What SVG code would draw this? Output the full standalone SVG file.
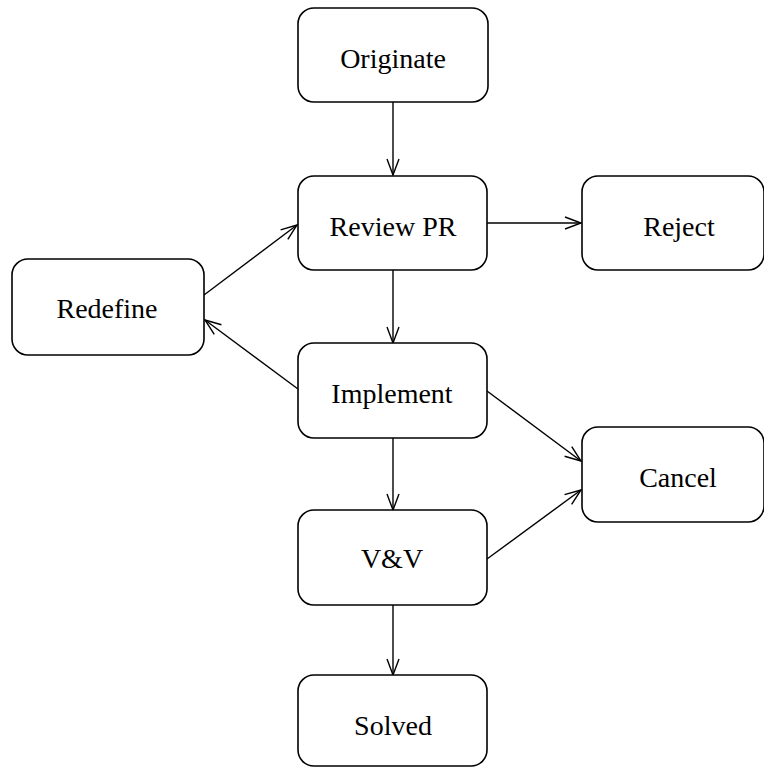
<svg xmlns="http://www.w3.org/2000/svg" width="764" height="768" viewBox="0 0 764 768">
  <style>
    .box { fill: #ffffff; stroke: #000000; stroke-width: 1.6; }
    .lbl { font-family: "Liberation Serif", "Times New Roman", serif; font-size: 28px; fill: #000000; text-anchor: middle; }
    .edge { fill: none; stroke: #000000; stroke-width: 1.4; marker-end: url(#open); }
  </style>
  <defs>
    <marker id="open" markerUnits="userSpaceOnUse" viewBox="-17 -8 19 16" refX="0" refY="0" markerWidth="19" markerHeight="16" orient="auto">
      <path d="M-16,-6 L0,0 L-16,6" fill="none" stroke="#000000" stroke-width="1.4"/>
    </marker>
  </defs>
  <rect width="764" height="768" fill="#ffffff"/>

  <g id="edges">
    <line class="edge" x1="393" y1="102" x2="393" y2="175"/>
    <line class="edge" x1="487" y1="223" x2="581" y2="223"/>
    <line class="edge" x1="393" y1="270" x2="393" y2="343"/>
    <line class="edge" x1="204" y1="295" x2="297" y2="225"/>
    <line class="edge" x1="298" y1="389" x2="205" y2="320"/>
    <line class="edge" x1="487" y1="391" x2="581" y2="461"/>
    <line class="edge" x1="393" y1="438" x2="393" y2="510"/>
    <line class="edge" x1="487" y1="559" x2="581" y2="490"/>
    <line class="edge" x1="393" y1="605" x2="393" y2="675"/>
  </g>

  <g id="originate">
    <rect class="box" x="298" y="8" width="190" height="94" rx="16"/>
    <text class="lbl" x="393" y="68">Originate</text>
  </g>
  <g id="review">
    <rect class="box" x="298" y="176" width="189" height="94" rx="16"/>
    <text class="lbl" x="393" y="236">Review PR</text>
  </g>
  <g id="reject">
    <rect class="box" x="582" y="176" width="182" height="94" rx="16"/>
    <text class="lbl" x="679" y="236">Reject</text>
  </g>
  <g id="redefine">
    <rect class="box" x="12" y="259" width="192" height="96" rx="16"/>
    <text class="lbl" x="107" y="318">Redefine</text>
  </g>
  <g id="implement">
    <rect class="box" x="298" y="343" width="189" height="95" rx="16"/>
    <text class="lbl" x="392" y="403">Implement</text>
  </g>
  <g id="cancel">
    <rect class="box" x="582" y="427" width="182" height="95" rx="16"/>
    <text class="lbl" x="678" y="487">Cancel</text>
  </g>
  <g id="vv">
    <rect class="box" x="298" y="510" width="189" height="95" rx="16"/>
    <text class="lbl" x="392" y="568">V&amp;V</text>
  </g>
  <g id="solved">
    <rect class="box" x="298" y="675" width="189" height="91" rx="16"/>
    <text class="lbl" x="393" y="735">Solved</text>
  </g>
</svg>
